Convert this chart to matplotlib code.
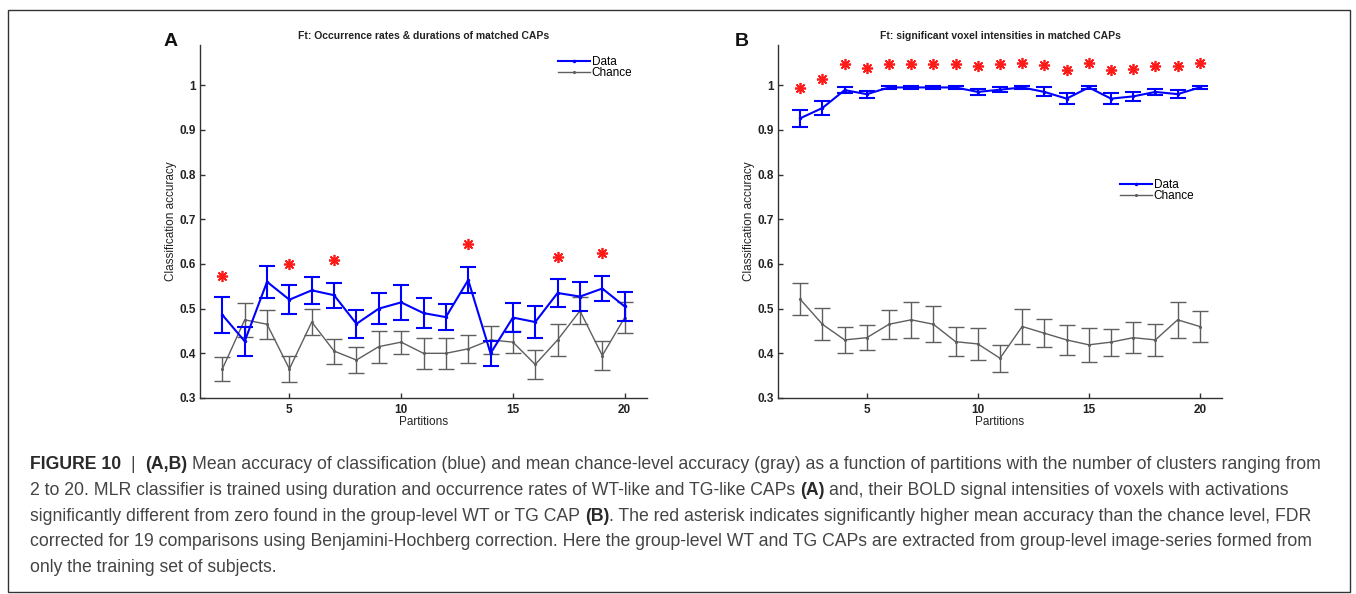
import matplotlib
matplotlib.use("Agg")
import matplotlib.pyplot as plt
from matplotlib.patches import Rectangle

# ---------------- data ----------------
partitions = list(range(2, 21))

a_data = [0.486, 0.427, 0.560, 0.520, 0.541, 0.530, 0.466, 0.500, 0.514, 0.490,
          0.481, 0.564, 0.400, 0.480, 0.470, 0.535, 0.527, 0.545, 0.505]
a_data_err = [0.040, 0.033, 0.036, 0.033, 0.030, 0.028, 0.032, 0.035, 0.039, 0.033,
              0.029, 0.030, 0.028, 0.032, 0.035, 0.032, 0.032, 0.029, 0.032]
a_chance = [0.365, 0.475, 0.465, 0.365, 0.470, 0.405, 0.385, 0.415, 0.425, 0.400,
            0.400, 0.410, 0.430, 0.425, 0.375, 0.430, 0.495, 0.395, 0.480]
a_chance_err = [0.027, 0.038, 0.032, 0.030, 0.030, 0.028, 0.030, 0.036, 0.026, 0.035,
                0.034, 0.032, 0.031, 0.025, 0.032, 0.036, 0.030, 0.032, 0.035]
a_sig_x = [2, 5, 7, 13, 17, 19]
a_sig_y = [0.574, 0.600, 0.608, 0.645, 0.616, 0.624]

b_data = [0.926, 0.949, 0.989, 0.980, 0.995, 0.995, 0.995, 0.995, 0.985, 0.990,
          0.995, 0.985, 0.970, 0.995, 0.970, 0.975, 0.985, 0.980, 0.995]
b_data_err = [0.019, 0.016, 0.006, 0.008, 0.004, 0.004, 0.004, 0.004, 0.007, 0.006,
              0.004, 0.010, 0.013, 0.004, 0.012, 0.010, 0.007, 0.009, 0.004]
b_chance = [0.521, 0.465, 0.430, 0.435, 0.465, 0.475, 0.465, 0.426, 0.421, 0.389,
            0.460, 0.445, 0.430, 0.419, 0.425, 0.435, 0.430, 0.475, 0.460]
b_chance_err = [0.036, 0.036, 0.030, 0.028, 0.033, 0.040, 0.040, 0.032, 0.035, 0.030,
                0.039, 0.031, 0.033, 0.038, 0.030, 0.035, 0.035, 0.040, 0.035]
b_sig_x = list(range(2, 21))
b_sig_y = [0.993, 1.013, 1.047, 1.039, 1.048, 1.048, 1.048, 1.048, 1.042, 1.047,
           1.049, 1.046, 1.035, 1.049, 1.035, 1.037, 1.042, 1.042, 1.049]

y_ticks = [0.3, 0.4, 0.5, 0.6, 0.7, 0.8, 0.9, 1.0]
y_tick_labels = ["0.3", "0.4", "0.5", "0.6", "0.7", "0.8", "0.9", "1"]
x_ticks = [5, 10, 15, 20]
x_tick_labels = ["5", "10", "15", "20"]

title_a = "Ft: Occurrence rates & durations of matched CAPs"
title_b = "Ft: significant voxel intensities in matched CAPs"
x_label = "Partitions"
y_label = "Classification accuracy"
legend_labels = ["Data", "Chance"]

caption_lines = [
    "**FIGURE 10**  |  **(A,B)** Mean accuracy of classification (blue) and mean chance-level accuracy (gray) as a function of partitions with the number of clusters ranging from",
    "2 to 20. MLR classifier is trained using duration and occurrence rates of WT-like and TG-like CAPs **(A)** and, their BOLD signal intensities of voxels with activations",
    "significantly different from zero found in the group-level WT or TG CAP **(B)**. The red asterisk indicates significantly higher mean accuracy than the chance level, FDR",
    "corrected for 19 comparisons using Benjamini-Hochberg correction. Here the group-level WT and TG CAPs are extracted from group-level image-series formed from",
    "only the training set of subjects.",
]

# ---------------- figure ----------------
W, H = 1356, 594
FONT = ["Liberation Sans", "DejaVu Sans"]
plt.rcParams["font.family"] = FONT

fig = plt.figure(figsize=(W / 100, H / 100), dpi=100)
fig.patch.set_facecolor("white")

BLUE = "#0000ff"
GRAY = "#5e5e5e"
RED = "#ff1a1a"
AXC = "#333333"


def px_axes(l, t, r, b):
    return fig.add_axes([l / W, 1 - b / H, (r - l) / W, (b - t) / H])


def panel(ax, data, derr, chance, cerr, sx, sy, title, leg_xy):
    ax.errorbar(partitions, chance, yerr=cerr, fmt="none", ecolor=GRAY,
                elinewidth=1.0, capsize=5.5, capthick=1.0, zorder=2)
    hc, = ax.plot(partitions, chance, color=GRAY, lw=1.0, marker=".", ms=2.5,
                  zorder=2, label=legend_labels[1])
    ax.errorbar(partitions, data, yerr=derr, fmt="none", ecolor=BLUE,
                elinewidth=1.5, capsize=6, capthick=1.5, zorder=3)
    hd, = ax.plot(partitions, data, color=BLUE, lw=1.5, marker=".", ms=3,
                  zorder=3, label=legend_labels[0])
    ax.plot(sx, sy, linestyle="none", marker=(8, 2, 0), ms=8, mew=1.25,
            color=RED, zorder=4)
    ax.set_xlim(1, 21)
    ax.set_ylim(0.3, 1.09)
    ax.set_xticks(x_ticks)
    ax.set_xticklabels(x_tick_labels)
    ax.set_yticks(y_ticks)
    ax.set_yticklabels(y_tick_labels)
    for s in ("top", "right"):
        ax.spines[s].set_visible(False)
    for s in ("left", "bottom"):
        ax.spines[s].set_color(AXC)
        ax.spines[s].set_linewidth(1.0)
    ax.tick_params(direction="in", length=3.5, width=1.0, color=AXC,
                   labelsize=8.5, labelcolor="#222222")
    ax.tick_params(axis="x", pad=4)
    ax.tick_params(axis="y", pad=3)
    for lab in ax.get_xticklabels() + ax.get_yticklabels():
        lab.set_fontweight("bold")
    ax.set_xlabel(x_label, fontsize=8.5, labelpad=0, color="#222222")
    ax.set_ylabel(y_label, fontsize=8.5, labelpad=2, color="#222222")
    ax.set_title(title, fontsize=7.5, fontweight="bold", pad=4.5, color="#222222")
    ax.legend(handles=[hd, hc], loc="upper left",
              bbox_to_anchor=(leg_xy[0] / W, 1 - leg_xy[1] / H),
              bbox_transform=fig.transFigure, frameon=False, fontsize=8.5,
              handlelength=2.7, handletextpad=0.15, labelspacing=-0.1,
              borderpad=0, borderaxespad=0)


axA = px_axes(200, 45, 647, 398)
panel(axA, a_data, a_data_err, a_chance, a_chance_err, a_sig_x, a_sig_y,
      title_a, (558, 56))
axB = px_axes(778, 45, 1222, 398)
panel(axB, b_data, b_data_err, b_chance, b_chance_err, b_sig_x, b_sig_y,
      title_b, (1120, 179))

fig.text(171 / W, 1 - 42 / H, "A", fontsize=14, fontweight="bold",
         ha="center", va="center", color="#111111")
fig.text(742 / W, 1 - 42 / H, "B", fontsize=14, fontweight="bold",
         ha="center", va="center", color="#111111")

# outer frame
fig.patches.append(Rectangle((8 / W, 1 - 592 / H), (1350 - 8) / W, (592 - 10) / H,
                             transform=fig.transFigure, fill=False,
                             edgecolor="#333333", lw=1.0))

# ---------------- caption ----------------
fig.canvas.draw()
rend = fig.canvas.get_renderer()


def tw(s, bold, fs):
    t = fig.text(0, 0, s, fontsize=fs, fontweight="bold" if bold else "normal")
    w = t.get_window_extent(rend).width
    t.remove()
    return w


def parse(line):
    parts = line.split("**")
    return [(p, i % 2 == 1) for i, p in enumerate(parts) if p]


def line_width(line, fs):
    total = 0.0
    sp = tw("a a", False, fs) - tw("aa", False, fs)
    for text, bold in parse(line):
        core = text.strip(" ")
        lead = len(text) - len(text.lstrip(" "))
        trail = len(text) - len(text.rstrip(" "))
        total += lead * sp + (tw(core, bold, fs) if core else 0) + trail * sp
    return total


x0, x1 = 30, 1322
fs0 = 11.0
fs = fs0 * (x1 - x0) / line_width(caption_lines[0], fs0)
sp = tw("a a", False, fs) - tw("aa", False, fs)

base0 = 469
dy = 25.8
for i, line in enumerate(caption_lines):
    x = x0
    y = 1 - (base0 + i * dy) / H
    for text, bold in parse(line):
        core = text.strip(" ")
        lead = len(text) - len(text.lstrip(" "))
        trail = len(text) - len(text.rstrip(" "))
        x += lead * sp
        if core:
            fig.text(x / W, y, core, fontsize=fs, va="baseline", ha="left",
                     fontweight="bold" if bold else "normal",
                     color="#2a2a2a" if bold else "#444444")
            x += tw(core, bold, fs)
        x += trail * sp

fig.savefig("out.png", dpi=100, facecolor="white")
